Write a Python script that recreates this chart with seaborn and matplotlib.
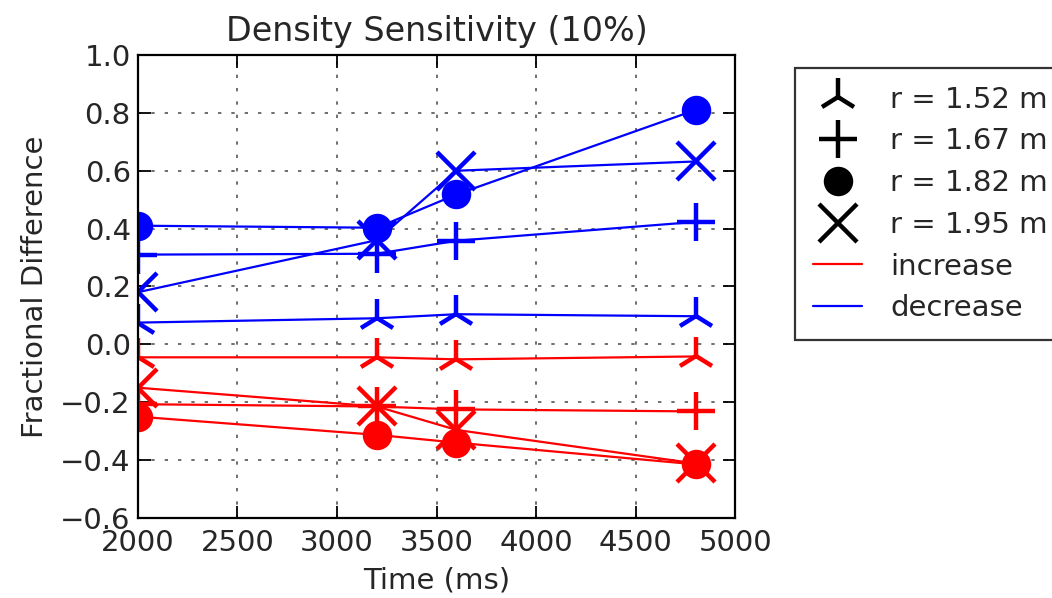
import matplotlib
matplotlib.use("Agg")
import matplotlib.pyplot as plt
from matplotlib.lines import Line2D
import numpy as np
import pandas as pd
import seaborn as sns

# Sampled times (ms)
times = [2000, 3200, 3600, 4800]

# Radii and their marker glyphs
radii = ["1.52", "1.67", "1.82", "1.95"]
markers = ["2", "+", "o", "x"]
marker_sizes = [28, 28, 18, 28]

# Fractional difference when density is increased by 10%
increase_152 = [-0.045, -0.045, -0.052, -0.042]
increase_167 = [-0.207, -0.215, -0.225, -0.232]
increase_182 = [-0.250, -0.313, -0.340, -0.415]
increase_195 = [-0.150, -0.215, -0.296, -0.412]

# Fractional difference when density is decreased by 10%
decrease_152 = [0.075, 0.090, 0.104, 0.097]
decrease_167 = [0.310, 0.313, 0.358, 0.423]
decrease_182 = [0.410, 0.403, 0.518, 0.810]
decrease_195 = [0.180, 0.360, 0.600, 0.632]

y_ticks = [-0.6, -0.4, -0.2, 0.0, 0.2, 0.4, 0.6, 0.8, 1.0]
x_ticks = [2000, 2500, 3000, 3500, 4000, 4500, 5000]

changes = ["increase", "decrease"]
colors = {"increase": "red", "decrease": "blue"}
series = {
    "increase": [increase_152, increase_167, increase_182, increase_195],
    "decrease": [decrease_152, decrease_167, decrease_182, decrease_195],
}

rows = []
for change in changes:
    for r, vals in zip(radii, series[change]):
        for t, v in zip(times, vals):
            rows.append({"change": change, "radius": r, "time": t, "diff": v})
df = pd.DataFrame(rows)

sns.set_style("ticks")
plt.rcParams["font.family"] = ["DejaVu Sans"]
plt.rcParams["xtick.direction"] = "in"
plt.rcParams["ytick.direction"] = "in"

FS = 21

fig = plt.figure(figsize=(10.52, 5.98), dpi=100)
ax = fig.add_axes([0.131, 0.134, 0.568, 0.774])

for change in changes:
    for r, m, ms in zip(radii, markers, marker_sizes):
        sub = df[(df["change"] == change) & (df["radius"] == r)]
        sns.lineplot(
            data=sub, x="time", y="diff", ax=ax,
            color=colors[change], linewidth=1.6,
            marker=m, markersize=ms, markeredgewidth=3.2,
            markeredgecolor=colors[change], markerfacecolor=colors[change],
            estimator=None, legend=False,
        )

ax.set_xlim(2000, 5000)
ax.set_ylim(-0.6, 1.0)
ax.set_xticks(x_ticks)
ax.set_yticks(y_ticks)
ax.set_yticklabels([f"{v:.1f}".replace("-", "\u2212") for v in y_ticks])
ax.grid(True, color="#555555", linestyle=(0, (2, 6)), linewidth=1.2)
ax.tick_params(axis="x", which="major", pad=8)
ax.tick_params(axis="y", which="major", pad=5)
ax.tick_params(axis="both", which="major", labelsize=FS, length=9, width=1.3,
               top=True, right=True, color="black")
for s in ax.spines.values():
    s.set_visible(True)
    s.set_color("black")
    s.set_linewidth(1.6)

ax.set_xlabel("Time (ms)", fontsize=FS, labelpad=7)
ax.set_ylabel("Fractional Difference", fontsize=FS, labelpad=8)
ax.set_title("Density Sensitivity (10%)", fontsize=24, pad=10)

handles = [
    Line2D([], [], linestyle="none", marker=m, markersize=ms, markeredgewidth=3.2,
           color="black", label=f"r = {r} m")
    for r, m, ms in zip(radii, markers, marker_sizes)
]
handles += [
    Line2D([], [], color="red", linewidth=1.6, label="increase"),
    Line2D([], [], color="blue", linewidth=1.6, label="decrease"),
]
leg = fig.legend(handles=handles, loc="upper left", bbox_to_anchor=(0.756, 0.886),
                 bbox_transform=fig.transFigure, borderaxespad=0, fontsize=FS,
                 frameon=True, fancybox=False, handlelength=1.7, labelspacing=0.47,
                 handletextpad=0.96, borderpad=0.6)
leg.get_frame().set_edgecolor("black")
leg.get_frame().set_linewidth(1.6)

fig.savefig("out.png", dpi=100)
